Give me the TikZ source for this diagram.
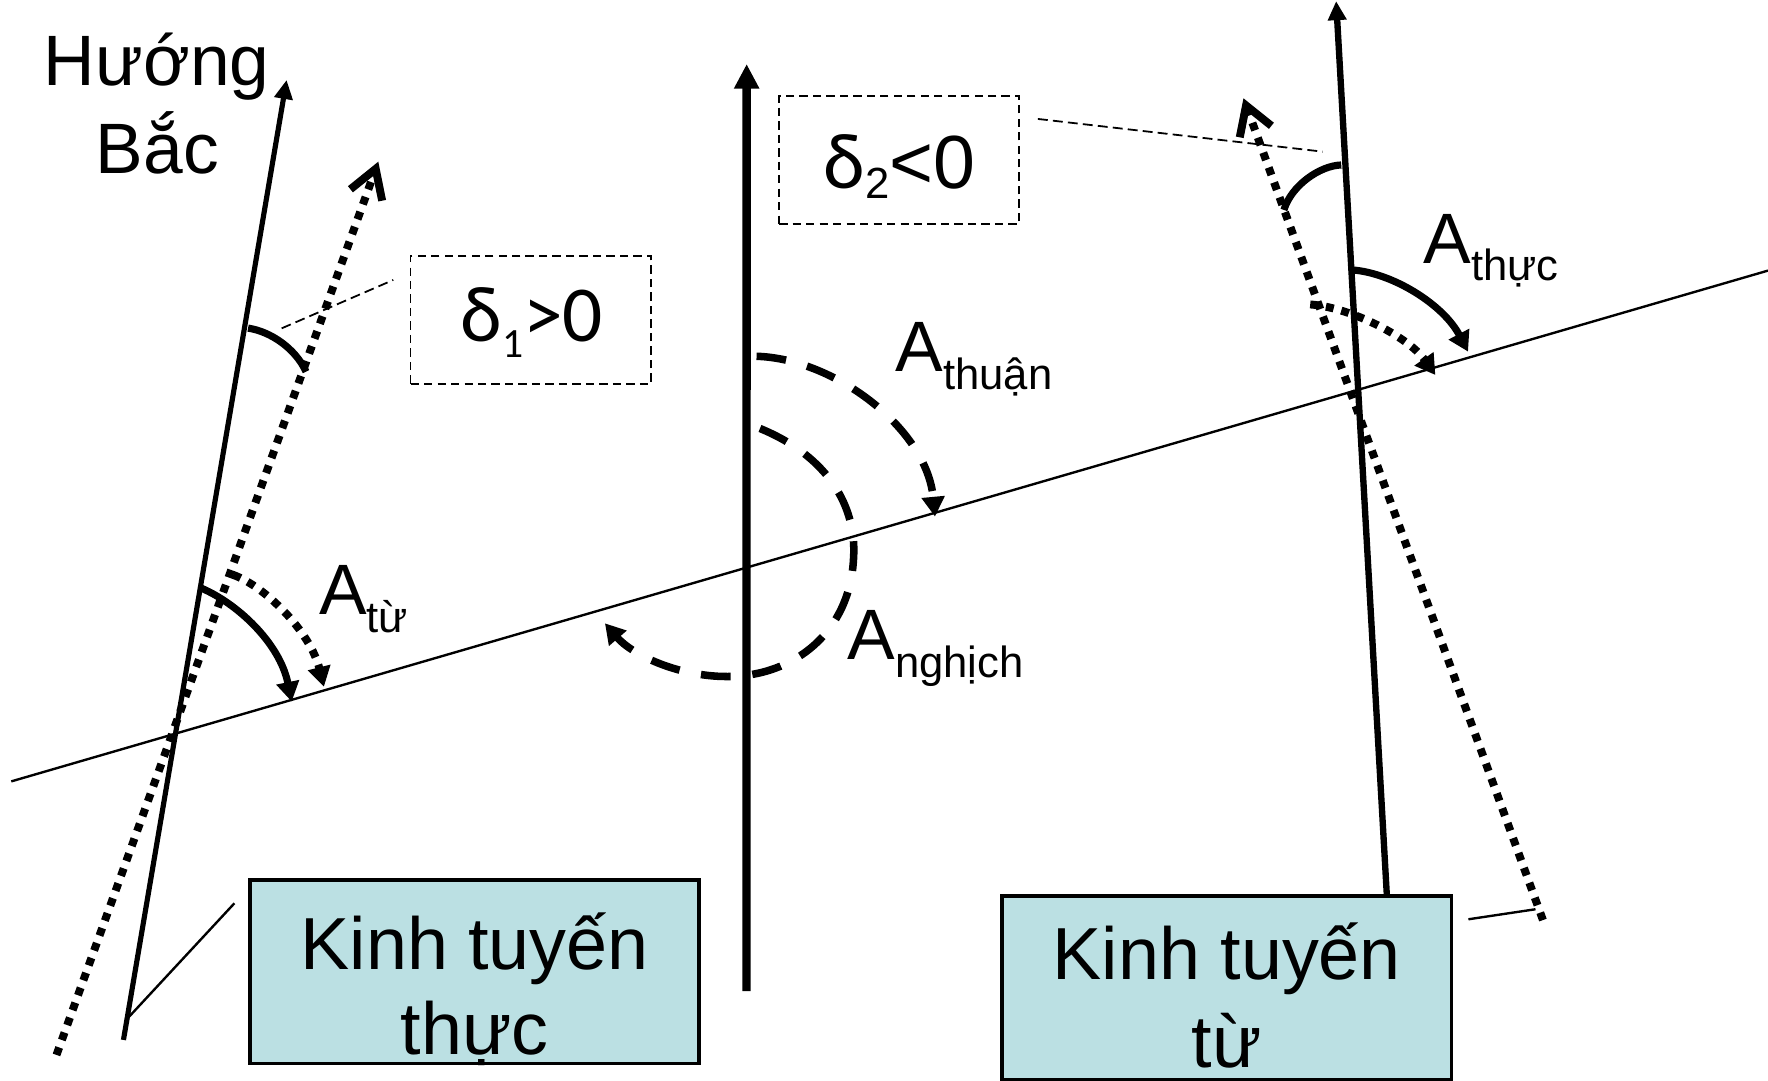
\documentclass[tikz,border=0pt]{standalone}
\usepackage{fontspec}
\setmainfont{Liberation Sans}
\newfontfamily\calfont{Carlito}
\usetikzlibrary{arrows.meta}
\definecolor{boxfill}{RGB}{187,224,227}
\newcommand{\subA}[1]{\raisebox{-4.4pt}{\fontsize{11}{13}\selectfont #1}}
\begin{document}
\begin{tikzpicture}[x=0.01cm,y=-0.01cm,
  thinline/.style={line width=0.6pt},
  solidL/.style={line width=1.3pt},
  solidM/.style={line width=2.1pt},
  dotline/.style={line width=2pt, dash pattern=on 2pt off 2pt},
  dashedarc/.style={line width=1.9pt, dash pattern=on 7.5pt off 5.5pt},
  anglearc/.style={line width=1.8pt},
  leader/.style={line width=0.45pt, dash pattern=on 2.5pt off 1.3pt},
  dbox/.style={draw, line width=0.45pt, dash pattern=on 2.1pt off 1.3pt, inner sep=0pt},
  bbox/.style={draw, line width=0.9pt, fill=boxfill, inner sep=0pt},
  lbl/.style={inner sep=0pt, font=\fontsize{18}{21.6}\selectfont},
  kbl/.style={inner sep=0pt, font=\fontsize{18.6}{22}\selectfont},
  tipbig/.style={-{Triangle[length=6.2pt,width=6pt]}},
  tipmed/.style={-{Triangle[length=4.8pt,width=4.5pt]}},
  tiparc/.style={-{Triangle[length=5pt,width=5.6pt]}},
  chevron/.style={-{Straight Barb[length=7pt,width=8.5pt]}}
]
\fill[white] (0,0) rectangle (1568,958);
\useasboundingbox (0,0) rectangle (1568,958);

% named coordinates
\coordinate (hL) at (10,693);
\coordinate (hR) at (1568,240);
\coordinate (lsB) at (109.5,922.3);
\coordinate (lsT) at (254.2,70.9);
\coordinate (ldB) at (50.1,935.6);
\coordinate (ldT) at (335.5,143.4);
\coordinate (mB) at (662,879);
\coordinate (mT) at (662.2,56.8);
\coordinate (rsB) at (1230,794.6);
\coordinate (rsT) at (1185,1);
\coordinate (rdB) at (1368.4,816);
\coordinate (rdT) at (1102.8,87.2);

% main lines
\draw[thinline] (hL) -- (hR);
\draw[solidL, tipmed] (lsB) -- (lsT);
\draw[dotline, chevron] (ldB) -- (ldT);
\draw[solidM, tipbig] (mB) -- (mT);
\draw[line width=1.6pt, tipmed] (rsB) -- (rsT);
\draw[dotline, chevron] (rdB) -- (rdT);

% left angle arcs
\coordinate (d1s) at (220,291);
\coordinate (d1e) at (271.4,329.6);
\draw[anglearc] (d1s) .. controls (240,294) and (262,309) .. (d1e);
\coordinate (ats) at (178.9,521.8);
\coordinate (ate) at (258.7,622.3);
\draw[anglearc, tiparc] (ats) .. controls (210,535) and (248,570) .. (ate);
\coordinate (atds) at (206.9,509.9);
\coordinate (atde) at (287.3,609);
\draw[dotline, tiparc] (atds) .. controls (235,520) and (275,560) .. (atde);

% middle dashed arcs
\coordinate (ths) at (671,316);
\coordinate (the) at (829.2,458.2);
\draw[dashedarc, tiparc] (ths) .. controls (740,318) and (822,380) .. (the);
\coordinate (ngs) at (674,380);
\coordinate (nge) at (536.5,552.8);
\draw[dashedarc, tiparc] (ngs) .. controls (735,405) and (760,450) .. (757,495)
   .. controls (754,560) and (705,600) .. (645,600)
   .. controls (600,600) and (560,580) .. (nge);

% right angle arcs
\coordinate (d2s) at (1189.5,146.3);
\coordinate (d2e) at (1138.7,186.2);
\draw[anglearc] (d2s) .. controls (1170,147) and (1145,165) .. (d2e);
\coordinate (aths) at (1199.2,239.4);
\coordinate (athe) at (1302,311.9);
\draw[anglearc, tiparc] (aths) .. controls (1235,242) and (1280,270) .. (athe);
\coordinate (athds) at (1162,270);
\coordinate (athde) at (1273,332.6);
\draw[dotline, tiparc] (athds) .. controls (1200,273) and (1250,300) .. (athde);

% dashed boxes
\node[dbox, minimum width=2.129cm, minimum height=1.136cm] (d1box) at (470.65,283.8) {};
\node[lbl, anchor=base] (d1txt) at (471.5,303) {\calfont\fontsize{20}{24}\selectfont δ\raisebox{-4pt}{\fontsize{10.5}{12}\selectfont 1}>0};
\node[dbox, minimum width=2.126cm, minimum height=1.138cm] (d2box) at (797.4,141.8) {};
\node[lbl, anchor=base] (d2txt) at (798,167) {\fontsize{19}{23}\selectfont {\calfont\fontsize{20}{24}\selectfont δ}\raisebox{-2.5pt}{\fontsize{11}{12}\selectfont 2}<0};

% leaders
\coordinate (l1a) at (249.8,291.2);
\coordinate (l1b) at (348.8,248.3);
\draw[leader] (l1a) -- (l1b);
\coordinate (l2a) at (920.5,105.5);
\coordinate (l2b) at (1173,134.5);
\draw[leader] (l2a) -- (l2b);

% blue boxes
\node[bbox, minimum width=3.98cm, minimum height=1.626cm] (kbL) at (421,861.7) {};
\node[kbl, anchor=base] (kbL1) at (421,860.2) {Kinh tuyến};
\node[kbl, anchor=base] (kbL2) at (421,935.6) {thực};
\node[bbox, minimum width=3.982cm, minimum height=1.626cm] (kbR) at (1087.9,875.9) {};
\node[kbl, anchor=base] (kbR1) at (1088,869) {Kinh tuyến};
\node[kbl, anchor=base] (kbR2) at (1088,947) {từ};

% box leader lines
\coordinate (bl1) at (207.9,801.1);
\coordinate (bl2) at (114.6,901.6);
\draw[thinline] (bl1) -- (bl2);
\coordinate (br1) at (1302.3,815.3);
\coordinate (br2) at (1361.8,806.4);
\draw[thinline] (br1) -- (br2);

% labels
\node[lbl, anchor=base] (hw1) at (139,75.4) {Hướng};
\node[lbl, anchor=base] (hw2) at (139.6,153.7) {Bắc};
\node[lbl, anchor=base west] (atu) at (282.3,545.4) {A\subA{từ}};
\node[lbl, anchor=base west] (athuan) at (793.7,329.6) {A\subA{thuận}};
\node[lbl, anchor=base west] (anghich) at (750.9,585.3) {A\subA{nghịch}};
\node[lbl, anchor=base west] (athuc) at (1261.8,233.5) {A\subA{thực}};
\end{tikzpicture}
\end{document}
